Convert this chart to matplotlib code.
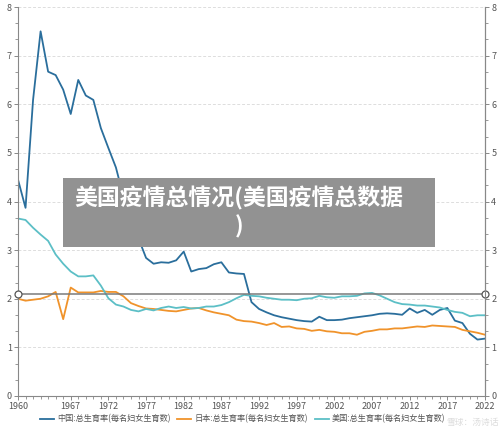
import matplotlib
matplotlib.use("Agg")
import matplotlib.pyplot as plt
from matplotlib.ticker import MultipleLocator, FixedLocator
from matplotlib.patches import Rectangle

plt.rcParams['font.family'] = ['Noto Sans CJK SC', 'DejaVu Sans']

years = list(range(1960, 2023))
china = [4.45, 3.87, 6.09, 7.50, 6.67, 6.60, 6.30, 5.80, 6.50, 6.18, 6.09, 5.51, 5.10, 4.70, 4.10,
         3.57, 3.24, 2.84, 2.72, 2.75, 2.74, 2.79, 2.97, 2.56, 2.61, 2.63, 2.71, 2.75, 2.54, 2.52,
         2.51, 1.93, 1.79, 1.72, 1.66, 1.62, 1.59, 1.56, 1.54, 1.53, 1.63, 1.56, 1.56, 1.57, 1.60,
         1.62, 1.64, 1.66, 1.69, 1.70, 1.69, 1.67, 1.80, 1.71, 1.77, 1.67, 1.77, 1.81, 1.55, 1.50,
         1.28, 1.16, 1.18]
japan = [2.00, 1.96, 1.98, 2.00, 2.05, 2.14, 1.58, 2.23, 2.13, 2.13, 2.13, 2.16, 2.14, 2.14, 2.05,
         1.91, 1.85, 1.80, 1.79, 1.77, 1.75, 1.74, 1.77, 1.80, 1.81, 1.76, 1.72, 1.69, 1.66, 1.57,
         1.54, 1.53, 1.50, 1.46, 1.50, 1.42, 1.43, 1.39, 1.38, 1.34, 1.36, 1.33, 1.32, 1.29, 1.29,
         1.26, 1.32, 1.34, 1.37, 1.37, 1.39, 1.39, 1.41, 1.43, 1.42, 1.45, 1.44, 1.43, 1.42, 1.36,
         1.33, 1.30, 1.26]
usa = [3.65, 3.62, 3.46, 3.32, 3.19, 2.91, 2.72, 2.56, 2.46, 2.46, 2.48, 2.27, 2.01, 1.88, 1.84,
       1.77, 1.74, 1.79, 1.76, 1.81, 1.84, 1.81, 1.83, 1.80, 1.81, 1.84, 1.84, 1.87, 1.93, 2.01,
       2.08, 2.06, 2.05, 2.02, 2.00, 1.98, 1.98, 1.97, 2.00, 2.01, 2.06, 2.03, 2.02, 2.05, 2.05,
       2.06, 2.11, 2.12, 2.07, 2.00, 1.93, 1.89, 1.88, 1.86, 1.86, 1.84, 1.82, 1.77, 1.73, 1.71,
       1.64, 1.66, 1.66]
replacement = 2.1
xtick_labels = [1960, 1967, 1972, 1977, 1982, 1987, 1992, 1997, 2002, 2007, 2012, 2017, 2022]
series_names = ["中国:总生育率(每名妇女生育数)", "日本:总生育率(每名妇女生育数)", "美国:总生育率(每名妇女生育数)"]
title_lines = "美国疫情总情况(美国疫情总数据\n)"

fig = plt.figure(figsize=(5, 4.28), dpi=100)
ax = fig.add_axes([0.036, 0.0748, 0.934, 0.9088])
ax.set_xlim(1960, 2022)
ax.set_ylim(0, 8)

ax.grid(axis='y', color='#dddddd', linestyle=(0, (3, 2)), linewidth=0.7)
ax.set_axisbelow(True)

cols = ['#2a6e9c', '#f0932b', '#5cbfc6']
for vals, c, n in zip([china, japan, usa], cols, series_names):
    ax.plot(years, vals, color=c, linewidth=1.3, label=n)

ax.plot([1960, 2022], [replacement, replacement], color='#7a7a7a', linewidth=1.1,
        marker='o', markersize=5, markerfacecolor='white', markeredgecolor='#555555',
        markeredgewidth=0.9, clip_on=False, zorder=5)

ax.spines['top'].set_visible(False)
for s in ['left', 'bottom', 'right']:
    ax.spines[s].set_color('#888888')
    ax.spines[s].set_linewidth(0.8)

ax.xaxis.set_major_locator(FixedLocator(xtick_labels))
ax.xaxis.set_minor_locator(MultipleLocator(1))
ax.yaxis.set_major_locator(MultipleLocator(1))
ax.yaxis.set_minor_locator(MultipleLocator(1/3))
ax.tick_params(axis='both', which='major', labelsize=6.5, colors='#888888', labelcolor='#555555',
               length=3, width=0.7, pad=1.5)
ax.tick_params(axis='both', which='minor', colors='#888888', length=2, width=0.6)

ax2 = ax.twinx()
ax2.set_ylim(0, 8)
ax2.yaxis.set_major_locator(MultipleLocator(1))
ax2.yaxis.set_minor_locator(MultipleLocator(1/3))
ax2.tick_params(axis='y', which='major', labelsize=6.5, colors='#888888', labelcolor='#555555',
                length=3, width=0.7, pad=1.5)
ax2.tick_params(axis='y', which='minor', colors='#888888', length=2, width=0.6)
for s in ['top', 'left', 'bottom']:
    ax2.spines[s].set_visible(False)
ax2.spines['right'].set_color('#888888')
ax2.spines['right'].set_linewidth(0.8)

leg = fig.legend(loc='center', bbox_to_anchor=(0.485, 0.021), ncol=3, frameon=False,
                 fontsize=5.9, handlelength=1.7, handletextpad=0.35, columnspacing=0.85)
for t in leg.get_texts():
    t.set_color('#555555')

# overlay title box
fig.patches.append(Rectangle((63/500, 1-247/428), 372/500, 69/428, transform=fig.transFigure,
                             facecolor='#929292', edgecolor='none', zorder=10))
fig.text(0.478, 1-212/428, title_lines, ha='center', va='center', color='white',
         fontsize=16.5, fontweight='bold', linespacing=1.25, zorder=11)

# watermark
fig.text(0.945, 0.012, "雪球：汤诗话", ha='center', va='center', color='#d4d4d4',
         fontsize=6.3, alpha=0.8, zorder=12)

fig.savefig('out.png', dpi=100)
